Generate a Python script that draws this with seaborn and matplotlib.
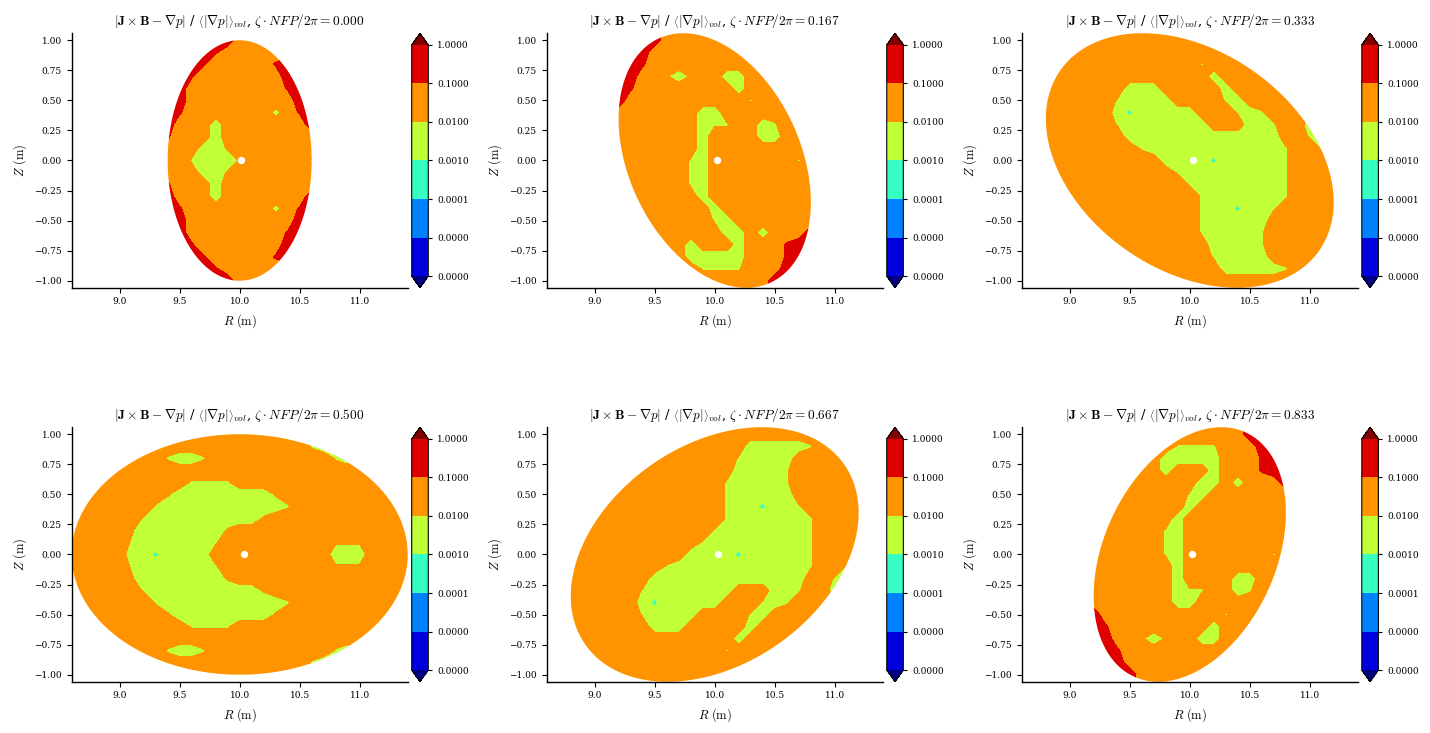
import numpy as np
import matplotlib
matplotlib.use("Agg")
import matplotlib.pyplot as plt
from matplotlib.colors import ListedColormap, BoundaryNorm
from matplotlib.patches import Polygon
import seaborn as sns

# toroidal cross-sections, zeta * NFP / 2pi
zeta_nfp = [0.000, 0.167, 0.333, 0.500, 0.667, 0.833]

# boundary: R = R0 + (R_mn[0] + R_mn[1] cos phi) cos theta
#           Z = Z_mn[0] sin theta + Z_mn[1] sin phi cos theta
R0 = 10.0
R_mn = [1.0, -0.4]
Z_mn = [1.0, -0.4]

R_nodes = [8.6, 8.7, 8.8, 8.9, 9.0, 9.1, 9.2, 9.3, 9.4, 9.5, 9.6, 9.7, 9.8, 9.9,
           10.0, 10.1, 10.2, 10.3, 10.4, 10.5, 10.6, 10.7, 10.8, 10.9, 11.0,
           11.1, 11.2, 11.3, 11.4]
Z_nodes = [1.1, 1.0, 0.9, 0.8, 0.7, 0.6, 0.5, 0.4, 0.3, 0.2, 0.1, 0.0,
           -0.1, -0.2, -0.3, -0.4, -0.5, -0.6, -0.7, -0.8, -0.9, -1.0, -1.1]

# log10 of the normalized force error for each letter
code_values = {"R": -0.5, "r": -0.9, "o": -1.5, "h": -1.9,
               "y": -2.1, "G": -2.25, "g": -2.5, "c": -3.2}

field_0000 = [
    "RRRRRRRRRRRRRRooooooooooooooo",
    "RRRRRRRRRRRRRRooooooooooooooo",
    "RRRRRRRRRRRRroooooooooooooooo",
    "RRRRRRRRRRRrooooorRRRRRRRRRRR",
    "RRRRRRRRRRroooooooRRRRRRRRRRR",
    "RRRRRRRRRRoooooooorRRRRRRRRRR",
    "RRRRRRRRRRoooooooooRRRRRRRRRR",
    "RRRRRRRRRroooooooGorRRRRRRRRR",
    "RRRRRRRRRooogoooooooRRRRRRRRR",
    "RRRRRRRRrooogoooooooooooooooo",
    "ooooooooooogghooooooooooooooo",
    "ooooooooooyggghoooooyoooooooo",
    "ooooooooooogghooooooooooooooo",
    "RRRRRRRRrooogoooooooooooooooo",
    "RRRRRRRRRooogoooooooRRRRRRRRR",
    "RRRRRRRRRroooooooGorRRRRRRRRR",
    "RRRRRRRRRRoooooooooRRRRRRRRRR",
    "RRRRRRRRRRoooooooorRRRRRRRRRR",
    "RRRRRRRRRRroooooooRRRRRRRRRRR",
    "RRRRRRRRRRRrooooorRRRRRRRRRRR",
    "RRRRRRRRRRRRroooooooooooooooo",
    "RRRRRRRRRRRRRRooooooooooooooo",
    "RRRRRRRRRRRRRRooooooooooooooo",
]

field_0167 = [
    "RRRRRRRRRRooooooooooooooooooo",
    "RRRRRRRRRRooooooooooooooooooo",
    "RRRRRRRRRoooooooooooooooooooo",
    "RRRRRRRRroooooooooooooooooooo",
    "RRRRRRRRoohghooggoooooooooooo",
    "RRRRRRRroooooooogoooooooooooo",
    "RRRRRRRooooooooooyooooooooooo",
    "oooooooooooooggoooooooooooooo",
    "ooooooooooooogyyoogyooooooooo",
    "ooooooooooooogooooggooooooooo",
    "ooooooooooooogooooooooooooooo",
    "ooooooooooooygoooooooyooooooo",
    "ooooooooooooygooooooooooooooo",
    "ooooooooooooygooooooooooooooo",
    "ooooooooooooogooooooooooooooo",
    "oooooooooooooogoooooooooooooo",
    "ooooooooooooooygooooooooooooo",
    "oooooooooooooooggogoooRRRRRRR",
    "oooooooooooogooogooorRRRRRRRR",
    "oooooooooooogggggooorRRRRRRRR",
    "oooooooooooooyyyyoooRRRRRRRRR",
    "oooooooooooooooooooRRRRRRRRRR",
    "oooooooooooooooooooRRRRRRRRRR",
]

field_0333 = [
    "ooooooooooooooooooooooooooooo",
    "ooooooooooooooooooooooooooooo",
    "ooooooooooooooooooooooooooooo",
    "oooooooooooooooyooooooooooooo",
    "oooooooooooooooogoooooooooooo",
    "ooooooooogggooooogooooooooooo",
    "ooooooooyggggooooygoooooooooo",
    "oooooooogcgggggoooygyoooooooo",
    "ooooooooygggggggoooggyoogoooo",
    "ooooooooogggggggggggggooygooo",
    "ooooooooooygggggggggggyooyooo",
    "ooooooooooooggggcgggggyoooooo",
    "oooooooooooooyggggggggyoooooo",
    "ooooooooooooooygggggggyoooooo",
    "oooooooooooooooyggggggyoooooo",
    "oooooooooooooooyggcggyooooooo",
    "oooooooooooooooygggggoooooooo",
    "oooooooooooooooyggggyoooooooo",
    "ooooooooooooooooggggyoooooooo",
    "ooooooooooooooooyggggoooooooo",
    "ooooooooooooooooogggggyoooooo",
    "ooooooooooooooooooooooooooooo",
    "ooooooooooooooooooooooooooooo",
]

field_0500 = [
    "ooooooooooooooooooooooooooooo",
    "ooooooooooooooooooooooooooooo",
    "ooooooooooooooooooooyggoooooo",
    "ooooooooyggyooooooooooygooooo",
    "ooooooooooooooooooooooooooooo",
    "ooooooooooyyyyooooooooooooooo",
    "oooooooohgggggggghooooooooooo",
    "oooooooyggggggggggyoooooooooo",
    "ooooooyggggggggghoooooooooooo",
    "ooooohggggggghooooooooooooooo",
    "oooooyggggggyooooooooohhhoooo",
    "oooooggcggggoooooooooogggoooo",
    "oooooyggggggyooooooooohhhoooo",
    "ooooohggggggghooooooooooooooo",
    "ooooooyggggggggghoooooooooooo",
    "oooooooyggggggggggyoooooooooo",
    "oooooooohgggggggghooooooooooo",
    "ooooooooooyyyyooooooooooooooo",
    "ooooooooooooooooooooooooooooo",
    "ooooooooyggyooooooooooygooooo",
    "ooooooooooooooooooooyggoooooo",
    "ooooooooooooooooooooooooooooo",
    "ooooooooooooooooooooooooooooo",
]

field_0667 = [
    "ooooooooooooooooooooooooooooo",
    "ooooooooooooooooooooooooooooo",
    "ooooooooooooooooogggggyoooooo",
    "ooooooooooooooooyggggoooooooo",
    "ooooooooooooooooggggyoooooooo",
    "oooooooooooooooyggggyoooooooo",
    "oooooooooooooooygggggoooooooo",
    "oooooooooooooooyggcggyooooooo",
    "oooooooooooooooyggggggyoooooo",
    "ooooooooooooooygggggggyoooooo",
    "oooooooooooooyggggggggyoooooo",
    "ooooooooooooggggcgggggyoooooo",
    "ooooooooooygggggggggggyooyooo",
    "ooooooooogggggggggggggooygooo",
    "ooooooooygggggggoooggyoogoooo",
    "oooooooogcgggggoooygyoooooooo",
    "ooooooooyggggooooygoooooooooo",
    "ooooooooogggooooogooooooooooo",
    "oooooooooooooooogoooooooooooo",
    "oooooooooooooooyooooooooooooo",
    "ooooooooooooooooooooooooooooo",
    "ooooooooooooooooooooooooooooo",
    "ooooooooooooooooooooooooooooo",
]

field_0833 = [
    "oooooooooooooooooooRRRRRRRRRR",
    "oooooooooooooooooooRRRRRRRRRR",
    "oooooooooooooyyyyoooRRRRRRRRR",
    "oooooooooooogggggooorRRRRRRRR",
    "oooooooooooogooogooorRRRRRRRR",
    "oooooooooooooooggogoooRRRRRRR",
    "ooooooooooooooygooooooooooooo",
    "oooooooooooooogoooooooooooooo",
    "ooooooooooooogooooooooooooooo",
    "ooooooooooooygooooooooooooooo",
    "ooooooooooooygooooooooooooooo",
    "ooooooooooooygoooooooyooooooo",
    "ooooooooooooogooooooooooooooo",
    "ooooooooooooogooooggooooooooo",
    "ooooooooooooogyyoogyooooooooo",
    "oooooooooooooggoooooooooooooo",
    "RRRRRRRooooooooooyooooooooooo",
    "RRRRRRRroooooooogoooooooooooo",
    "RRRRRRRRoohghooggoooooooooooo",
    "RRRRRRRRroooooooooooooooooooo",
    "RRRRRRRRRoooooooooooooooooooo",
    "RRRRRRRRRRooooooooooooooooooo",
    "RRRRRRRRRRooooooooooooooooooo",
]

fields = [field_0000, field_0167, field_0333, field_0500, field_0667, field_0833]

# magnetic axis (white hole in each section)
axis_R = [10.01, 10.02, 10.03, 10.035, 10.03, 10.02]
axis_Z = [0.0, 0.0, 0.0, 0.0, 0.0, 0.0]

# colour levels, log10 of the error
levels = [-6, -5, -4, -3, -2, -1, 0]
x_ticks = [9.0, 9.5, 10.0, 10.5, 11.0]
y_ticks = [-1.0, -0.75, -0.5, -0.25, 0.0, 0.25, 0.5, 0.75, 1.0]

sns.set_style("ticks", {"axes.edgecolor": "black", "xtick.color": "black",
                        "ytick.color": "black", "text.color": "black",
                        "axes.labelcolor": "black"})
plt.rcParams["font.family"] = "serif"
plt.rcParams["mathtext.fontset"] = "cm"

jet = plt.get_cmap("jet")
cmap = ListedColormap([jet((i + 0.5) / 6) for i in range(6)])
cmap.set_under(jet(0.0))
cmap.set_over(jet(1.0))

fig = plt.figure(figsize=(14.3, 7.33), dpi=100)
lefts = [0.0501, 0.3823, 0.7145]
bottoms = [0.6075, 0.0700]
width, height = 0.235, 0.3471
theta = np.linspace(0, 2 * np.pi, 400)
colorbars = []

for k, zn in enumerate(zeta_nfp):
    row, col = divmod(k, 3)
    ax = fig.add_axes([lefts[col], bottoms[row], width, height])
    cax = fig.add_axes([lefts[col] + 0.2378, bottoms[row], 0.0116, height])

    for i, line in enumerate(fields[k]):
        assert len(line) == len(R_nodes), (k, i, len(line))
    grid = np.array([[code_values[c] for c in line] for line in fields[k]])

    norm = BoundaryNorm(levels, cmap.N)
    cs = ax.contourf(R_nodes, Z_nodes, grid, levels=levels, cmap=cmap,
                     norm=norm, extend="both")

    phi = 2 * np.pi * zn
    Rb = R0 + (R_mn[0] + R_mn[1] * np.cos(phi)) * np.cos(theta)
    Zb = Z_mn[0] * np.sin(theta) + Z_mn[1] * np.sin(phi) * np.cos(theta)
    patch = Polygon(np.column_stack([Rb, Zb]), closed=True,
                    transform=ax.transData, facecolor="none", edgecolor="none")
    ax.add_patch(patch)
    cs.set_clip_path(patch)

    sns.scatterplot(x=[axis_R[k]], y=[axis_Z[k]], ax=ax, color="white",
                    s=28, linewidth=0, zorder=5, legend=False)

    ax.set_xlim(8.6, 11.4)
    ax.set_ylim(-1.058, 1.058)
    ax.set_xticks(x_ticks)
    ax.set_yticks(y_ticks)
    ax.set_xticklabels([f"{v:.1f}" for v in x_ticks])
    ax.set_yticklabels([f"{v:.2f}".replace("-", "\u2212") for v in y_ticks])
    ax.tick_params(labelsize=6.5, length=3.5, width=0.8)
    ax.set_xlabel(r"$R ~(\mathrm{m})$", fontsize=9)
    ax.set_ylabel(r"$Z ~(\mathrm{m})$", fontsize=9)
    ax.set_title(r"$|\mathbf{J} \times \mathbf{B} - \nabla p|$ / "
                 r"$\left\langle|\nabla p|\right\rangle_{vol}$, "
                 r"$\zeta \cdot NFP/2\pi = %.3f$" % zn, fontsize=9.6)
    sns.despine(ax=ax)
    for sp in ax.spines.values():
        sp.set_linewidth(1.0)

    cb = fig.colorbar(cs, cax=cax, ticks=levels)
    cb.outline.set_linewidth(0.8)
    colorbars.append(cb)

# tick labels of the colour scale, in linear units
for cb in colorbars:
    cb.set_ticks(levels)
    cb.set_ticklabels([f"{10.0 ** lv:.4f}" for lv in levels])
    cb.ax.tick_params(labelsize=6.5, length=3, width=0.8)

fig.savefig("out.png", dpi=100)
